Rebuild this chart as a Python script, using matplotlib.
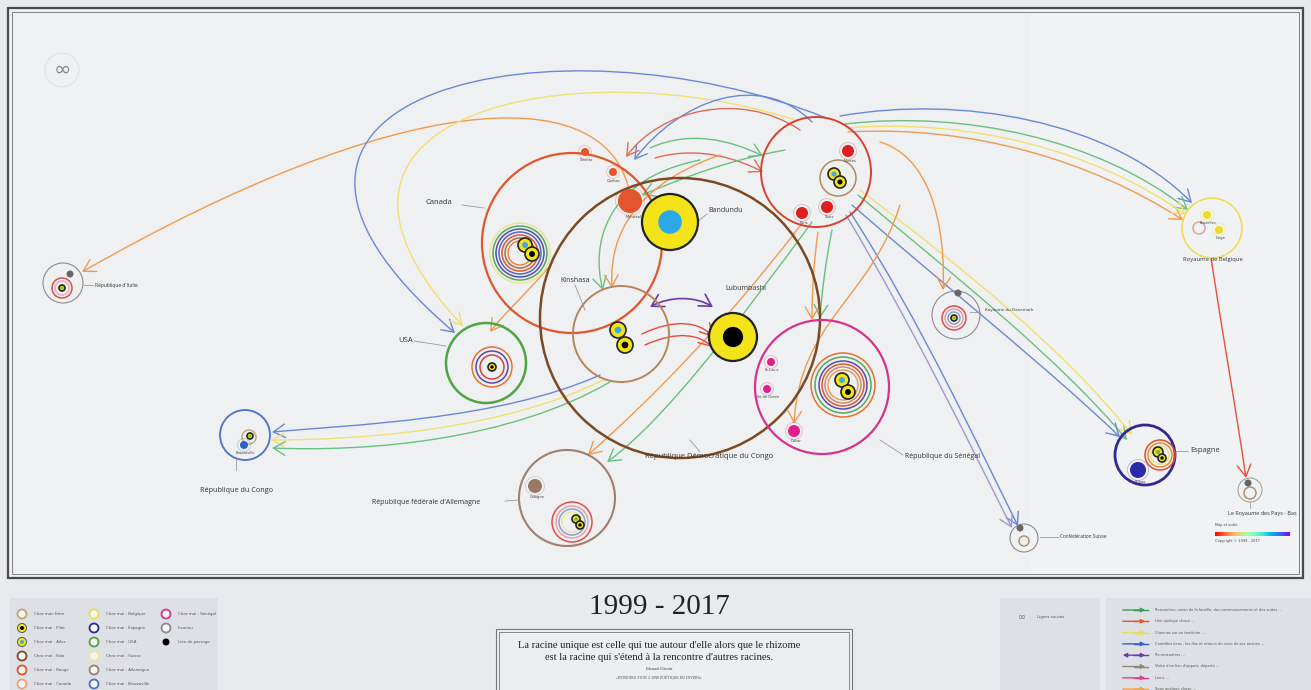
import numpy as np
import matplotlib
matplotlib.use("Agg")
import matplotlib.pyplot as plt
from matplotlib.patches import Circle, Rectangle, FancyArrowPatch
from matplotlib.path import Path

# ---- data (pixel coordinates of the poster) ----
countries   = ['Canada', 'République Démocratique du Congo', 'Kinshasa', 'France', 'République du Sénégal',
               'Royaume de Belgique', "République d'Italie", 'USA', 'République du Congo',
               "République fédérale d'Allemagne", 'Royaume du Danemark', 'Confédération Suisse',
               'Espagne', 'Le Royaume des Pays - Bas']
country_x   = [572, 680, 621, 816, 822, 1212, 63, 486, 245, 567, 956, 1024, 1145, 1250]
country_y   = [243, 318, 334, 172, 387, 228, 283, 363, 435, 498, 315, 538, 455, 490]
country_r   = [90, 140, 48, 55, 67, 30, 20, 40, 25, 48, 24, 14, 30, 12]
country_col = ['#e2562e', '#7b4a22', '#b8855a', '#d8412f', '#d6338c', '#ecdc5a', '#8c8c8c', '#4fa444',
               '#4a72c8', '#9e7f70', '#8c8c8c', '#8c8c8c', '#2e2a92', '#9a9a9a']
country_lw  = [1.6, 1.8, 1.4, 1.4, 1.6, 1.2, 0.8, 1.8, 1.3, 1.5, 0.8, 0.8, 2.0, 0.7]

# label text position and anchor point on circle
label_x = [425, 645, 560, None, 905, 1213, 95, 398, 236, 372, 985, 1060, 1190, 1262]
label_y = [203, 457, 280, None, 457, 259, 286, 340, 491, 502, 310, 537, 450, 513]
label_ha = ['left', 'left', 'left', None, 'left', 'center', 'left', 'left', 'center', 'left', 'left',
            'left', 'left', 'center']
label_fs = [5.5, 5.5, 5.0, 0, 5.0, 4.2, 3.6, 5.5, 5.2, 5.0, 3.2, 3.4, 5.5, 4.0]
line_from = [(462, 205), (700, 452), (575, 285), None, (903, 455), None, (84, 285), (414, 341),
             (236, 470), (505, 501), (978, 312), (1058, 537), (1188, 451), (1250, 502)]
line_to   = [(484, 208), (690, 440), (585, 310), None, (880, 440), None, (93, 285), (446, 346),
             (236, 460), (519, 500), (970, 312), (1040, 537), (1175, 451), (1250, 508)]

# cities: name, x, y, r, colour
city_name = ['Toronto', 'Québec', 'Montréal', 'Nantes', 'Tours', 'Paris', 'St-Louis', 'Ile de Gorée',
             'Dakar', 'Cologne', 'Bilbao', 'Brazzaville', 'Bruxelles', 'Liège']
city_x = [585, 613, 630, 848, 827, 802, 771, 767, 794, 535, 1138, 244, 1207, 1219]
city_y = [152, 172, 201, 151, 207, 213, 362, 389, 431, 486, 470, 445, 215, 230]
city_r = [4, 4, 12, 6, 6, 6, 4, 4, 6, 7, 8, 4, 4, 4]
city_col = ['#e2562e', '#e2562e', '#e2562e', '#de1f1f', '#de1f1f', '#de1f1f', '#e0208a', '#e0208a',
            '#e0208a', '#9a7868', '#2a2aa8', '#2a64c8', '#f0dc20', '#f0dc20']

# concentric rings ("chez moi") per place
ring_x = [520, 843, 1160, 572, 62, 954, 249, 492, 838, 1024, 1250, 1199]
ring_y = [253, 385, 455, 522, 288, 318, 437, 367, 178, 541, 493, 228]
ring_radii = [[30, 27, 24, 21, 18, 15, 12], [32, 28, 24, 21, 18, 15], [15, 12, 9], [20, 16, 13, 10],
              [10, 7], [12, 9, 6], [7], [20, 16, 12], [18], [5], [6], [6]]
ring_cols = [['#e8e690', '#54a85a', '#5a4aa8', '#4a6ac8', '#e2562e', '#a07050', '#e88a40'],
             ['#e8702e', '#54a85a', '#5a4aa8', '#e2562e', '#c89070', '#e8a060'],
             ['#e84a2e', '#e8902e', '#ece090'],
             ['#e84a4a', '#e8a0a0', '#8aa0d8', '#ece8a0'],
             ['#d85050', '#e8b0b0'],
             ['#d85050', '#e8a0a0', '#8aa0d8'],
             ['#c8a880'], ['#e8702e', '#5a4aa8', '#d84040'], ['#b08a60'], ['#b09070'], ['#b09070'],
             ['#e0a0a0']]

# yellow home dots: x, y, r, inner colour
home_x = [525, 532, 842, 848, 618, 625, 834, 840, 1158, 1162, 576, 580, 62, 954, 250, 492, 670, 733]
home_y = [245, 254, 380, 392, 330, 345, 174, 182, 452, 458, 519, 525, 288, 318, 436, 367, 222, 337]
home_r = [7, 7, 7, 7, 8, 8, 6, 6, 5, 4, 4, 4, 3, 3, 3, 4, 28, 24]
home_in = ['#45a8e0', 'k', '#45a8e0', 'k', '#45a8e0', 'k', '#45a8e0', 'k', '#78b040', 'k',
           '#78b040', 'k', '#78b040', '#78b040', '#78b040', 'k', '#2aa8e8', 'k']

# arrows: colour and cubic bezier points
arrow_col = ['#f09a50', '#6a88d8', '#f0e070', '#6a88d8', '#e06a5a', '#6ac080', '#e06a5a',
             '#6a88d8', '#6ac080', '#f09a50', '#f0e070',
             '#6ac080', '#f0e070', '#6a88d8',
             '#6a88d8', '#9a9ad0',
             '#f09a50', '#6ac080',
             '#6ac080', '#f09a50', '#f09a50',
             '#6a88d8', '#f0e070', '#6ac080',
             '#f09a50', '#e84a3a', '#e84a3a', '#6ac080', '#6ac080', '#f09a50', '#f09a50',
             '#e8503a']
arrow_pts = [
    [(628, 186), (600, 80), (400, 90), (82, 272)],
    [(826, 118), (560, 10), (170, 90), (455, 333)],
    [(795, 120), (580, 50), (260, 110), (463, 326)],
    [(812, 122), (760, 70), (680, 100), (634, 160)],
    [(800, 130), (740, 90), (660, 110), (626, 157)],
    [(650, 148), (690, 130), (730, 140), (763, 156)],
    [(655, 158), (700, 145), (740, 160), (763, 172)],
    [(840, 116), (960, 95), (1110, 120), (1192, 203)],
    [(845, 124), (965, 110), (1100, 140), (1188, 210)],
    [(848, 132), (970, 125), (1090, 160), (1183, 220)],
    [(846, 128), (968, 118), (1095, 150), (1186, 215)],
    [(858, 195), (960, 280), (1060, 360), (1127, 440)],
    [(860, 190), (965, 270), (1065, 350), (1132, 435)],
    [(852, 205), (950, 290), (1050, 370), (1120, 437)],
    [(850, 212), (920, 320), (980, 450), (1018, 526)],
    [(846, 215), (915, 330), (975, 455), (1012, 528)],
    [(800, 226), (720, 330), (650, 400), (588, 455)],
    [(812, 222), (740, 320), (665, 420), (607, 462)],
    [(832, 230), (826, 260), (822, 290), (820, 318)],
    [(818, 232), (814, 260), (812, 290), (812, 320)],
    [(880, 142), (940, 160), (945, 250), (943, 290)],
    [(600, 375), (500, 420), (350, 425), (272, 432)],
    [(605, 379), (505, 430), (360, 440), (271, 440)],
    [(610, 382), (510, 440), (370, 452), (272, 448)],
    [(548, 268), (525, 295), (500, 318), (490, 332)],
    [(642, 334), (675, 318), (700, 322), (713, 337)],
    [(645, 345), (678, 330), (700, 335), (712, 347)],
    [(785, 150), (730, 160), (690, 175), (642, 195)],
    [(700, 160), (600, 180), (592, 250), (603, 290)],
    [(720, 155), (620, 190), (610, 250), (612, 288)],
    [(900, 205), (870, 300), (800, 320), (794, 424)],
    [(1211, 258), (1222, 330), (1236, 410), (1246, 478)],
]

legend_left = [['Chez mon frère', 'Chez moi - Pilot', 'Chez moi - Ailes', 'Chez moi - Kola',
                'Chez moi - Rouge', 'Chez moi - Canada'],
               ['Chez moi - Belgique', 'Chez moi - Espagne', 'Chez moi - USA', 'Chez moi - Suisse',
                'Chez moi - Allemagne', 'Chez moi - Brazzaville'],
               ['Chez moi - Sénégal', 'Inconnu', 'Lieu de passage']]
legend_left_col = [['#c8a070', 'k', '#45a8e0', '#7b4a22', '#e2562e', '#f0a070'],
                   ['#ecdc5a', '#2e2a92', '#4fa444', '#ece8a0', '#9e7f70', '#4a72c8'],
                   ['#d6338c', '#8c8c8c', 'k']]
legend_right = ['Rencontres, union de la famille, des commencements et des suites ...',
                'Une quelque chose ...', 'Chemins sur un territoire ...',
                'Contrôles liens - les fins et retours de vivre de ses racines ...', 'Re-rencontres ...',
                'Visite d\'un lieu d\'appuis, départs ...', 'Liens ...', 'Sans quelque chose ...']
legend_right_col = ['#3a9a5a', '#e2562e', '#ecdc5a', '#3a5ad8', '#6a3aa8', '#8a8a7a', '#e0408a', '#f0a040']

# ---- figure ----
fig = plt.figure(figsize=(13.11, 6.90), dpi=100)
fig.patch.set_facecolor('#e8eaed')
ax = fig.add_axes([0, 0, 1, 1])
ax.set_xlim(0, 1311)
ax.set_ylim(690, 0)
ax.axis('off')

# main panel with double frame
ax.add_patch(Rectangle((8, 8), 1295, 570, fc='#eff0f1', ec='#4a4a4a', lw=1.6, zorder=0))
ax.add_patch(Rectangle((1030, 12), 268, 562, fc='#f1f2f4', ec='none', zorder=0))
ax.add_patch(Rectangle((12, 12), 1287, 562, fc='none', ec='#707070', lw=0.6, zorder=0.5))

# infinity emblem
ax.add_patch(Circle((62, 70), 17, fill=False, ec='#dcdcdc', lw=0.6))
ax.text(62, 70, '∞', fontsize=15, color='#888888', ha='center', va='center')

# arrows
for c, pts in zip(arrow_col, arrow_pts):
    path = Path(pts, [Path.MOVETO, Path.CURVE4, Path.CURVE4, Path.CURVE4])
    ax.add_patch(FancyArrowPatch(path=path, arrowstyle='->,head_length=0.6,head_width=0.35',
                                 mutation_scale=14, color=c, lw=1.0, zorder=2))

# purple double arrow between Kinshasa and Lubumbashi
dpath = Path([(650, 307), (670, 296), (695, 296), (713, 307)],
             [Path.MOVETO, Path.CURVE4, Path.CURVE4, Path.CURVE4])
ax.add_patch(FancyArrowPatch(path=dpath, arrowstyle='<->,head_length=0.6,head_width=0.35',
                             mutation_scale=14, color='#6a3aa8', lw=1.2, zorder=3))

# country circles
for x, y, r, c, lw in zip(country_x, country_y, country_r, country_col, country_lw):
    ax.add_patch(Circle((x, y), r, fill=False, ec=c, lw=lw, zorder=3))

# labels
for i, name in enumerate(countries):
    if label_x[i] is None:
        continue
    ax.text(label_x[i], label_y[i], name, fontsize=label_fs[i], ha=label_ha[i], va='center',
            color='#333333', family='Open Sans', zorder=6)
    if line_from[i] is not None:
        (xa, ya), (xb, yb) = line_from[i], line_to[i]
        ax.plot([xa, xb], [ya, yb], color='#9a9a9a', lw=0.6, zorder=4)
ax.text(725, 290, 'Lubumbashi', fontsize=5.0, color='#333333', family='Open Sans', zorder=6)
ax.text(708, 212, 'Bandundu', fontsize=5.0, color='#333333', family='Open Sans', zorder=6)
ax.plot([697, 707], [222, 214], color='#9a9a9a', lw=0.6, zorder=4)

# concentric rings
for x, y, radii, cols in zip(ring_x, ring_y, ring_radii, ring_cols):
    for r, c in zip(radii, cols):
        ax.add_patch(Circle((x, y), r, fill=False, ec=c, lw=1.1, zorder=4))

# cities
for n, x, y, r, c in zip(city_name, city_x, city_y, city_r, city_col):
    ax.add_patch(Circle((x, y), r + 2.5, fc='none', ec=c, lw=0.5, alpha=0.35, zorder=5))
    ax.add_patch(Circle((x, y), r, fc=c, ec='none', zorder=5))
    ax.text(x + r * 0.3, y + r + 4, n, fontsize=2.6, color='#444444', ha='center', va='center', zorder=6)

# home dots
for x, y, r, c in zip(home_x, home_y, home_r, home_in):
    ax.add_patch(Circle((x, y), r, fc='#f2e418', ec='#222222', lw=1.2 if r < 20 else 1.6, zorder=7))
    ax.add_patch(Circle((x, y), r * 0.42, fc=c, ec='none', zorder=8))
# grey unknown dots
for x, y in [(958, 293), (70, 274), (1248, 483), (1020, 528)]:
    ax.add_patch(Circle((x, y), 3.5, fc='#666666', ec='none', zorder=7))

# map scale bar
grad = np.linspace(0, 1, 200).reshape(1, -1)
ax.imshow(grad, extent=(1215, 1290, 536, 532), cmap='rainbow_r', aspect='auto', zorder=6)
ax.text(1215, 526, 'Map et scale', fontsize=2.5, color='#444444')
ax.text(1215, 542, 'Copyright © 1999 - 2017', fontsize=2.5, color='#444444')

# ---- bottom area ----
ax.add_patch(Rectangle((10, 598), 208, 92, fc='#dde0e4', ec='none', zorder=1))
for ci, (names, cols) in enumerate(zip(legend_left, legend_left_col)):
    x0 = 22 + ci * 72
    for ri, (n, c) in enumerate(zip(names, cols)):
        y0 = 614 + ri * 14
        if c == 'k' and ci == 2:
            ax.add_patch(Circle((x0, y0), 3.5, fc='k', ec='none', zorder=3))
        elif c == 'k' or (ci == 0 and ri == 2):
            ax.add_patch(Circle((x0, y0), 4.5, fc='#f2e418', ec='#444444', lw=0.6, zorder=3))
            ax.add_patch(Circle((x0, y0), 2, fc=c, ec='none', zorder=4))
        else:
            ax.add_patch(Circle((x0, y0), 4.5, fc='#f5f5f5', ec=c, lw=1.3, zorder=3))
        ax.text(x0 + 12, y0, n, fontsize=2.8, color='#555555', va='center')

ax.text(659, 607, '1999 - 2017', fontsize=21, family='Liberation Serif', ha='center', va='center',
        color='#222222')
ax.add_patch(Rectangle((496, 629), 356, 62, fc='#eceef0', ec='#777777', lw=0.8, zorder=1))
ax.add_patch(Rectangle((499, 632), 350, 58, fc='none', ec='#777777', lw=0.6, zorder=1))
ax.text(659, 645, "La racine unique est celle qui tue autour d'elle alors que le rhizome",
        fontsize=7.6, family='Liberation Serif', ha='center', va='center', color='#222222')
ax.text(659, 657, "est la racine qui s'étend à la rencontre d'autres racines.",
        fontsize=7.6, family='Liberation Serif', ha='center', va='center', color='#222222')
ax.text(659, 669, 'Edouard Glissant', fontsize=2.8, family='Liberation Serif', ha='center',
        va='center', color='#444444')
ax.text(659, 678, '«INTRODUCTION À UNE POÉTIQUE DU DIVERS»', fontsize=2.8, family='Liberation Serif',
        ha='center', va='center', color='#444444')

ax.add_patch(Rectangle((1000, 598), 100, 92, fc='#dde0e4', ec='none', zorder=1))
ax.text(1022, 617, '∞', fontsize=7, color='#777777', ha='center', va='center')
ax.text(1037, 617, 'Lignes suivies', fontsize=2.8, color='#555555', va='center')
ax.add_patch(Rectangle((1106, 598), 205, 92, fc='#dde0e4', ec='none', zorder=1))
for i, (t, c) in enumerate(zip(legend_right, legend_right_col)):
    y0 = 610 + i * 11.3
    style = '<|-|>' if i == 4 else '-|>'
    ax.add_patch(FancyArrowPatch((1120, y0), (1148, y0), arrowstyle=style, mutation_scale=6,
                                 color=c, lw=1.0, zorder=3))
    ax.plot([1134, 1148], [y0, y0], color=c, lw=1.0, zorder=3)
    ax.text(1155, y0, t, fontsize=2.6, color='#555555', va='center')

fig.savefig('out.png', dpi=100, facecolor=fig.get_facecolor())
